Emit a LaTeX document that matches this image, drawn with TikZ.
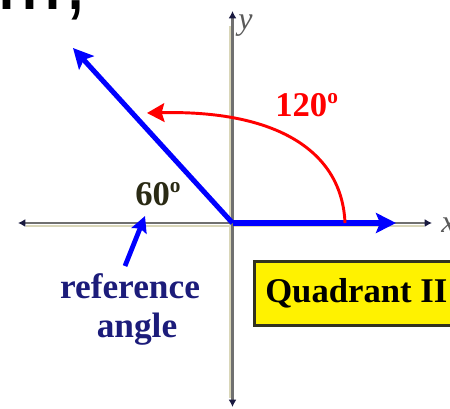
\documentclass[tikz,border=0pt]{standalone}
\usepackage{fontspec}
\setmainfont{Liberation Serif}
\newfontfamily\arialfont{Liberation Sans}
\usetikzlibrary{arrows.meta}
\definecolor{axisgray}{HTML}{707070}
\definecolor{axisbeige}{HTML}{D9D6B8}
\definecolor{axistip}{HTML}{1A1A40}
\definecolor{refnavy}{HTML}{1C1C7A}
\definecolor{darkolive}{HTML}{2A2A14}
\definecolor{boxborder}{HTML}{33331F}
\definecolor{labelgray}{HTML}{5A5A5A}
\begin{document}
\begin{tikzpicture}[x=0.75pt,y=-0.75pt,
  axisline/.style={draw=axisgray,line width=2.2pt,
    {Latex[length=5.5pt,width=6pt,color=axistip]}-{Latex[length=5.5pt,width=6pt,color=axistip]}},
  axisshade/.style={draw=axisbeige,line width=1.5pt},
  bluearm/.style={draw=blue,line width=3.8pt,-{Stealth[length=15pt,width=15pt,inset=3pt]}},
  redarc/.style={draw=red,line width=2.2pt,-{Stealth[length=13pt,width=14pt,inset=2pt]}},
  refarrow/.style={draw=blue,line width=3.6pt,-{Stealth[length=12pt,width=12pt,inset=2pt]}},
  bigtxt/.style={font=\bfseries\fontsize{26}{26}\selectfont,inner sep=0pt},
  quadbox/.style={draw=boxborder,fill=yellow,line width=2.4pt,
    font=\bfseries\fontsize{26}{26}\selectfont,text=black,
    anchor=north west,inner xsep=8pt,minimum height=48pt},
]
\useasboundingbox (0,0) rectangle (450,408);

% coordinates
\coordinate (O) at (232.5,223);
\coordinate (xl) at (18,223);
\coordinate (xr) at (432,223);
\coordinate (yt) at (232.5,11);
\coordinate (yb) at (232.5,407);
\coordinate (hend) at (396,223);
\coordinate (dend) at (73,48);
\coordinate (arcstart) at (345,223);
\coordinate (arcend) at (147,113);
\coordinate (reftail) at (125,266);
\coordinate (reftip) at (145,216);

% title fragment at top
\node[anchor=base west,font=\arialfont\fontsize{62}{62}\selectfont,inner sep=0pt] (title) at (-5,9.5) {III,};

% axes
\draw[axisshade] (229.5,26) -- (229.5,398);
\draw[axisshade] (26,225.5) -- (424,225.5);
\draw[axisline] (xl) -- (xr);
\draw[axisline] (yb) -- (yt);
\node[anchor=base west,font=\itshape\fontsize{24}{24}\selectfont,text=labelgray,inner sep=0pt] (ylab) at (238,29) {y};
\node[anchor=base west,font=\itshape\fontsize{24}{24}\selectfont,text=labelgray,inner sep=0pt] (xlab) at (441,232) {x};

% quadrant box
\fill[gray!35] (255,322) rectangle (480,327);
\node[quadbox] (box) at (253,260) {Quadrant II\hspace{20pt}};

% blue sides
\draw[bluearm] (O) -- (hend);
\draw[bluearm] (O) -- (dend);

% red arc
\draw[redarc] (arcstart) .. controls (342,150) and (275,110) .. (arcend);

% labels
\node[bigtxt,text=red,anchor=base west] (l120) at (275,116) {120\raisebox{9.5pt}{\fontsize{16}{16}\selectfont o}};
\node[bigtxt,text=darkolive,anchor=base west] (l60) at (135,205) {60\raisebox{9.5pt}{\fontsize{16}{16}\selectfont o}};
\node[font=\bfseries\fontsize{26.5}{26.5}\selectfont,text=refnavy,inner sep=0pt,anchor=base] (ref1) at (130,298) {reference};
\node[font=\bfseries\fontsize{26.5}{26.5}\selectfont,text=refnavy,inner sep=0pt,anchor=base] (ref2) at (137,337) {angle};

% reference arrow
\draw[refarrow] (reftail) -- (reftip);
\end{tikzpicture}
\end{document}
